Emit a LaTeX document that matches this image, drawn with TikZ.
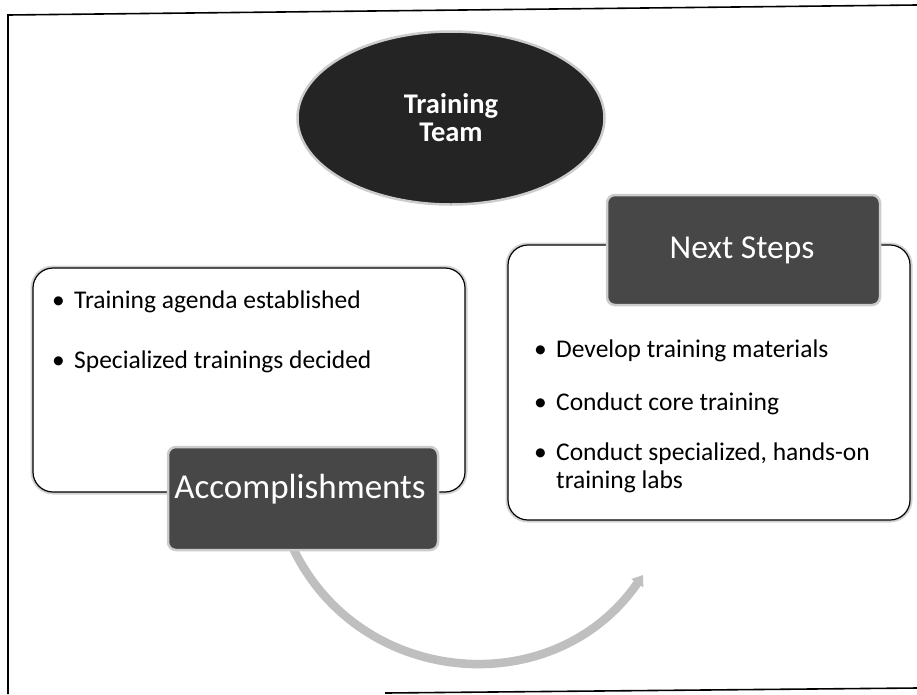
\documentclass[tikz,border=0pt]{standalone}
\usepackage{fontspec}
\setmainfont{Carlito}
\usetikzlibrary{shapes.geometric,arrows.meta}
\begin{document}
\begin{tikzpicture}[x=1pt,y=-1pt,
  glow/.style={preaction={draw=gray!35,line width=5pt}},
  panel/.style={draw=black,line width=1.2pt,fill=white,rounded corners=20pt,glow},
  tab/.style={fill=black!72,draw=gray!40,line width=2.5pt,rounded corners=8pt,inner sep=0pt},
  tabtext/.style={text=white,font=\fontsize{33.5}{36}\selectfont,inner sep=0pt},
  blt/.style={anchor=base west,font=\fontsize{25.5}{28}\selectfont,inner sep=0pt,align=left},
  framel/.style={draw=black,line width=1.6pt},
  arrowst/.style={draw=gray!50,line width=8.5pt,-{Triangle[width=14pt,length=10pt]}}
]
\useasboundingbox (0,0) rectangle (917,694);
\fill[white] (0,0) rectangle (917,694);

% page frame
\coordinate (fa) at (8,694);
\coordinate (fb) at (8,15);
\coordinate (fc) at (917,5);
\draw[framel] (fa) -- (fb) -- (fc);
\coordinate (fd) at (385,693);
\coordinate (fe) at (917,688);
\draw[framel] (fd) -- (fe);

% title ellipse
\node[ellipse,fill=black!86,draw=gray!40,line width=2.5pt,minimum width=307pt,minimum height=173pt,
      text=white,font=\bfseries\fontsize{28.5}{28}\selectfont,align=center,inner sep=0pt]
      (team) at (451,118) {Training\\Team};

% panels
\node[panel,minimum width=432pt,minimum height=224pt] (accbox) at (249,380) {};
\node[panel,minimum width=402pt,minimum height=275pt] (nextbox) at (709,382.5) {};

% bullets left
\node[blt] (b1) at (52,308) {\makebox[22pt][l]{•}Training agenda established};
\node[blt] (b2) at (52,368) {\makebox[22pt][l]{•}Specialized trainings decided};

% bullets right
\node[blt] (b3) at (534,357) {\makebox[22pt][l]{•}Develop training materials};
\node[blt] (b4) at (534,410) {\makebox[22pt][l]{•}Conduct core training};
\node[blt,anchor=north west] (b5) at (534,443) {\makebox[22pt][l]{•}Conduct specialized, hands-on\\\hspace*{22pt}training labs};

% curved arrow
\coordinate (as) at (292,546);
\coordinate (ae) at (643,575);
\draw[arrowst] (as) .. controls (358,688) and (554,704) .. (ae);

% tabs
\node[tab,minimum width=270pt,minimum height=103pt] (acc) at (303,498.5) {};
\node[tabtext,font=\fontsize{35}{38}\selectfont] (acct) at (300,489) {Accomplishments};
\node[tab,minimum width=273pt,minimum height=110pt] (next) at (743.5,250) {};
\node[tabtext] (nextt) at (742,250) {Next Steps};
\end{tikzpicture}
\end{document}
